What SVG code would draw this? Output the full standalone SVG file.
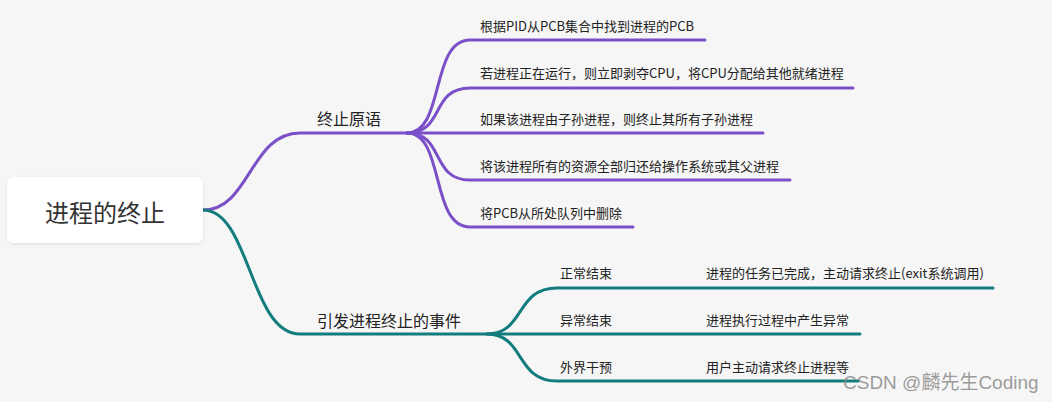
<svg xmlns="http://www.w3.org/2000/svg" width="1052" height="402" viewBox="0 0 1052 402">
<defs>
<filter id="sh" x="-10%" y="-20%" width="120%" height="150%">
<feDropShadow dx="0" dy="1" stdDeviation="1.5" flood-color="#000" flood-opacity="0.10"/>
</filter>
<style>
text{font-family:"Noto Sans CJK SC","Microsoft YaHei","Liberation Sans",sans-serif;fill:#222}
.root{font-size:24px;fill:#333}
.l1{font-size:16px}
.l2{font-size:13px}
.p{fill:none;stroke:#7b4fc8;stroke-width:3;stroke-linecap:round}
.t{fill:none;stroke:#137c7e;stroke-width:3;stroke-linecap:round}
.wm{font-family:"Liberation Sans","Noto Sans CJK SC",sans-serif;font-size:19px;fill:#8a8a8a;fill-opacity:0.85}
</style>
</defs>
<rect width="1052" height="402" fill="#f6f6f6"/>
<g id="connectors">
<path class="p" d="M203,210 C250,210 250,133 300,133 L763,133"/>
<path class="p" d="M407,133 C445,133 430,40 470,40 L705,40"/>
<path class="p" d="M407,133 C445,133 430,88 470,88 L853,88"/>
<path class="p" d="M407,133 C445,133 430,180 470,180 L790,180"/>
<path class="p" d="M407,133 C445,133 430,227 470,227 L633,227"/>
<path class="t" d="M203,210 C250,210 250,334 300,334 L860,334"/>
<path class="t" d="M487,334 C525,334 515,288 557,288 L993,288"/>
<path class="t" d="M487,334 C525,334 515,381 557,381 L858,381"/>
</g>
<g id="root">
<rect x="7" y="177" width="196" height="66" rx="7" fill="#fff" filter="url(#sh)"/>
<text class="root" x="105" y="222" text-anchor="middle">进程的终止</text>
</g>
<g id="n-primitive"><text class="l1" x="317" y="125">终止原语</text></g>
<g id="n-p1"><text class="l2" x="480" y="31">根据PID从PCB集合中找到进程的PCB</text></g>
<g id="n-p2"><text class="l2" x="480" y="78">若进程正在运行，则立即剥夺CPU，将CPU分配给其他就绪进程</text></g>
<g id="n-p3"><text class="l2" x="480" y="124">如果该进程由子孙进程，则终止其所有子孙进程</text></g>
<g id="n-p4"><text class="l2" x="480" y="171">将该进程所有的资源全部归还给操作系统或其父进程</text></g>
<g id="n-p5"><text class="l2" x="480" y="218">将PCB从所处队列中删除</text></g>
<g id="n-events"><text class="l1" x="317" y="327">引发进程终止的事件</text></g>
<g id="n-e1"><text class="l2" x="560" y="278">正常结束</text></g>
<g id="n-e1c"><text class="l2" x="706" y="278">进程的任务已完成，主动请求终止(exit系统调用)</text></g>
<g id="n-e2"><text class="l2" x="560" y="325">异常结束</text></g>
<g id="n-e2c"><text class="l2" x="706" y="325">进程执行过程中产生异常</text></g>
<g id="n-e3"><text class="l2" x="560" y="372">外界干预</text></g>
<g id="n-e3c"><text class="l2" x="706" y="372">用户主动请求终止进程等</text></g>
<text class="wm" x="843" y="389">CSDN @麟先生Coding</text>
</svg>
